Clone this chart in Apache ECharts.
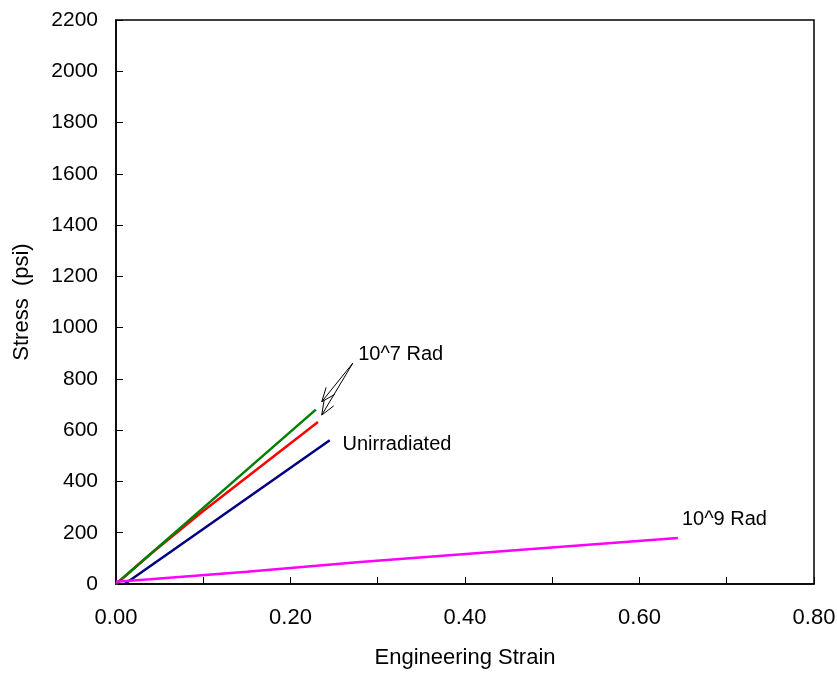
<!DOCTYPE html>
<html>
<head>
<meta charset="utf-8">
<script src="https://cdn.jsdelivr.net/npm/echarts@6/dist/echarts.min.js"></script>
<style>
  html, body { margin: 0; padding: 0; background: #fff; }
  #chart { width: 837px; height: 675px; }
</style>
</head>
<body>
<div id="chart"></div>
<script>
// strain / stress pairs
const green7 = [[0, 0], [0.1, 297], [0.229, 680]]
const red7 = [[0, 0], [0.04, 118], [0.1, 285], [0.2315, 632]]
const unirr = [[0.01, 0], [0.12, 262], [0.245, 561]]
const rad9 = [[0, 9], [0.039, 19], [0.15, 48], [0.28, 86], [0.45, 130], [0.644, 179]]

const xTicks = [0, 0.2, 0.4, 0.6, 0.8]
const arrowFrom = [0.2713, 861]
const arrowTo = [[0.2358, 711], [0.2358, 659]]

const font = 'Liberation Sans, Arial, sans-serif'
const chart = echarts.init(document.getElementById('chart'))

// approx px per data unit, only used to shape the open arrow heads
const pxX = 698 / 0.8
const pxY = 564 / 2200
const headLines = []
arrowTo.forEach(tip => {
  headLines.push([{ coord: arrowFrom }, { coord: tip }])
  const dx = (arrowFrom[0] - tip[0]) * pxX
  const dy = (arrowFrom[1] - tip[1]) * pxY
  const ang = Math.atan2(dy, dx)
  ;[-0.38, 0.38].forEach(a => {
    const wx = Math.cos(ang + a) * 15
    const wy = Math.sin(ang + a) * 15
    headLines.push([{ coord: tip }, { coord: [tip[0] + wx / pxX, tip[1] + wy / pxY] }])
  })
})

const note = (coord, text) => ({
  coord: coord,
  symbol: 'circle',
  symbolSize: 1,
  itemStyle: { color: 'rgba(0,0,0,0)' },
  label: { show: true, position: 'right', distance: 0, formatter: text, color: '#000', fontSize: 20, fontFamily: font },
})

const lineSeries = (data, color, extra) => Object.assign({
  type: 'line',
  data: data,
  showSymbol: false,
  lineStyle: { color: color, width: 2.5 },
  itemStyle: { color: color },
  z: 3,
}, extra || {})

const option = {
  animation: false,
  grid: {
    left: 116, right: 23, top: 20, bottom: 91,
    outerBoundsMode: 'none', containLabel: false,
    show: true, borderColor: '#000', borderWidth: 1.5,
  },
  xAxis: {
    type: 'value',
    min: 0,
    max: 0.8,
    interval: 0.1,
    name: 'Engineering Strain',
    nameLocation: 'middle',
    nameGap: 63,
    nameTextStyle: { color: '#000', fontSize: 22, fontFamily: font },
    axisLine: { lineStyle: { color: '#000', width: 1.5 } },
    axisTick: { inside: true, length: 7, lineStyle: { color: '#000' } },
    axisLabel: {
      color: '#000', fontSize: 22, fontFamily: font, margin: 23,
      formatter: v => xTicks.some(t => Math.abs(t - v) < 1e-6) ? v.toFixed(2) : '',
    },
    splitLine: { show: false },
  },
  yAxis: {
    type: 'value',
    min: 0,
    max: 2200,
    interval: 200,
    name: 'Stress  (psi)',
    nameLocation: 'middle',
    nameGap: 83,
    nameTextStyle: { color: '#000', fontSize: 22, fontFamily: font },
    axisLine: { lineStyle: { color: '#000', width: 1.5 } },
    axisTick: { inside: true, length: 7, lineStyle: { color: '#000' } },
    axisLabel: { color: '#000', fontSize: 21, fontFamily: font, margin: 18, formatter: v => String(v) },
    splitLine: { show: false },
  },
  series: [
    lineSeries(unirr, '#000080', {
      name: 'Unirradiated',
      markPoint: { data: [note([0.259, 546], 'Unirradiated')] },
    }),
    lineSeries(red7, '#ff0000', { name: '10^7 Rad red' }),
    lineSeries(green7, '#008000', {
      name: '10^7 Rad',
      markPoint: { data: [note([0.277, 896], '10^7 Rad')] },
      markLine: {
        silent: true,
        symbol: ['none', 'none'],
        lineStyle: { color: '#000', width: 1, type: 'solid' },
        label: { show: false },
        data: headLines,
      },
    }),
    lineSeries(rad9, '#ff00ff', {
      name: '10^9 Rad',
      markPoint: { data: [note([0.648, 250], '10^9 Rad')] },
    }),
  ],
}

chart.setOption(option)
</script>
</body>
</html>
